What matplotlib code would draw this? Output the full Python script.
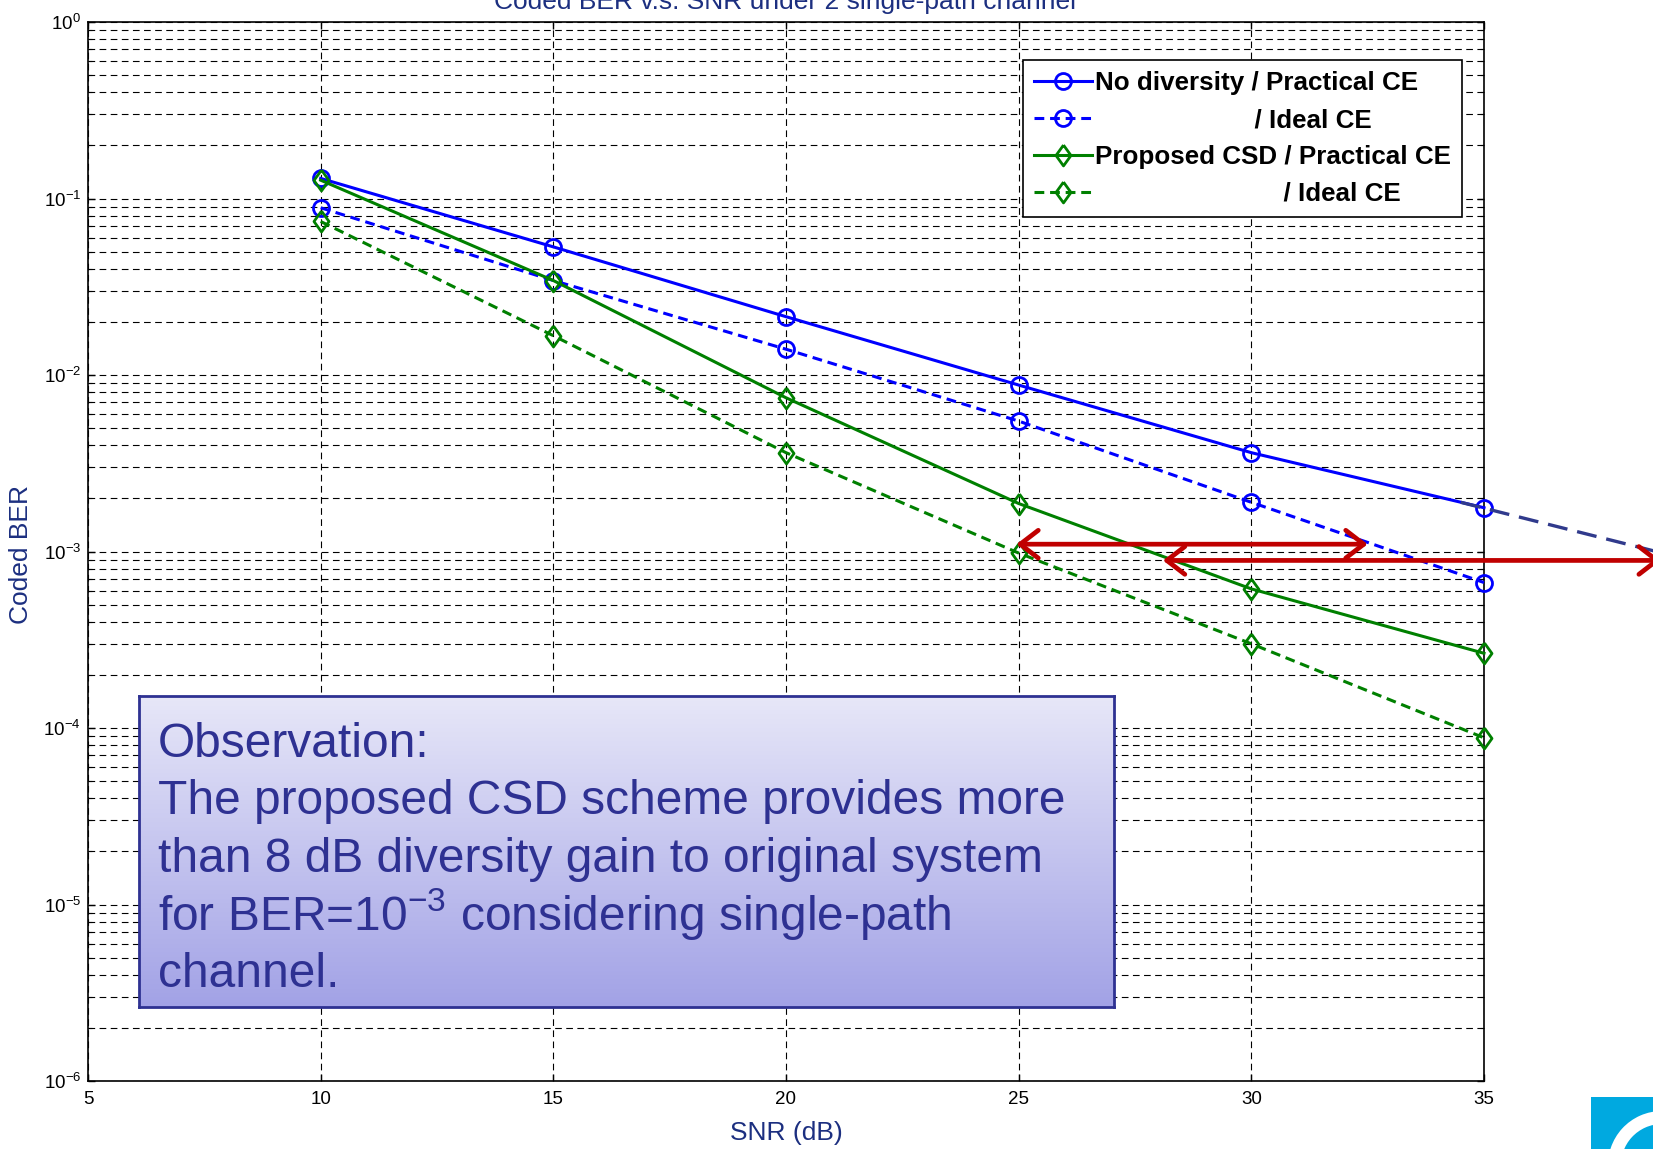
import matplotlib
matplotlib.use("Agg")
import matplotlib.pyplot as plt
import numpy as np
from matplotlib.ticker import LogLocator, NullFormatter
from matplotlib.patches import Rectangle, Wedge

# Coded BER
snr = [10, 15, 20, 25, 30, 35]
ber_nodiv_practical = [0.130, 0.0532, 0.0214, 0.00877, 0.00363, 0.00177]
ber_nodiv_ideal = [0.0886, 0.0343, 0.0140, 0.00548, 0.00190, 0.000667]
ber_csd_practical = [0.127, 0.0343, 0.00743, 0.00187, 0.000614, 0.000265]
ber_csd_ideal = [0.0741, 0.0167, 0.00363, 0.00098, 0.000300, 0.000088]

series_labels = ["No diversity / Practical CE",
                 " " * 22 + "/ Ideal CE",
                 "Proposed CSD / Practical CE",
                 " " * 26 + "/ Ideal CE"]

# extrapolated no-diversity curve and the two gain arrows
extrap_snr = [34.5, 38.7]
extrap_ber = [1.9e-3, 1.0e-3]
arrow_snr = [(24.95, 32.5), (28.1, 38.8)]
arrow_ber = [1.1e-3, 8.9e-4]

note_lines = ["Observation:",
              "The proposed CSD scheme provides more",
              "than 8 dB diversity gain to original system",
              r"for BER=10$^{-3}$ considering single-path",
              "channel."]

plt.rcParams.update({
    'font.family': ['Liberation Sans', 'DejaVu Sans'],
    'mathtext.fontset': 'custom',
    'mathtext.rm': 'Liberation Sans',
    'mathtext.it': 'Liberation Sans:italic',
    'mathtext.bf': 'Liberation Sans:bold',
    'mathtext.default': 'regular',
    'axes.unicode_minus': False,
})

W, H = 1653, 1149
fig = plt.figure(figsize=(W / 100, H / 100), dpi=100)
ax = fig.add_axes([88 / W, 1 - 1081 / H, 1396 / W, 1059 / H])

navy = '#1c2f80'
blue = '#0000ff'
green = '#008000'
diamond = [(0, 1), (0.72, 0), (0, -1), (-0.72, 0), (0, 1)]
dash = (0, (3.2, 1.9))
line_kw = dict(lw=2.2, mfc='none', mew=2, clip_on=False, zorder=3)

l1, = ax.plot(snr, ber_nodiv_practical, '-', color=blue, marker='o', ms=11.5, **line_kw)
l2, = ax.plot(snr, ber_nodiv_ideal, ls=dash, color=blue, marker='o', ms=11.5, **line_kw)
l3, = ax.plot(snr, ber_csd_practical, '-', color=green, marker=diamond, ms=15, **line_kw)
l4, = ax.plot(snr, ber_csd_ideal, ls=dash, color=green, marker=diamond, ms=15, **line_kw)

ax.plot(extrap_snr, extrap_ber, ls=(0, (6, 3)), color='#303a8c', lw=2.4,
        clip_on=False, zorder=4)

for (x0, x1), y in zip(arrow_snr, arrow_ber):
    ax.annotate('', xy=(x1, y), xytext=(x0, y), annotation_clip=False,
                arrowprops=dict(arrowstyle='<->,head_length=0.65,head_width=0.5',
                                color='#c00000', lw=3.4, mutation_scale=20,
                                shrinkA=0, shrinkB=0), zorder=5)

ax.set_yscale('log')
ax.set_xlim(5, 35)
ax.set_ylim(1e-6, 1)
ax.set_xticks([5, 10, 15, 20, 25, 30, 35])
ax.yaxis.set_major_locator(LogLocator(base=10, numticks=20))
ax.yaxis.set_minor_locator(LogLocator(base=10, subs=np.arange(2, 10), numticks=100))
ax.yaxis.set_minor_formatter(NullFormatter())

ax.tick_params(which='both', direction='in', top=True, right=True,
               labelsize=13.5, colors='black')
ax.tick_params(which='major', length=5, width=1)
ax.tick_params(which='minor', length=3, width=0.8)
ax.tick_params(axis='x', pad=7)
ax.tick_params(axis='y', pad=5)

grid_kw = dict(color='black', lw=0.8, ls=(0, (6, 4)))
ax.grid(True, which='major', axis='x', **grid_kw)
ax.grid(True, which='both', axis='y', **grid_kw)
for s in ax.spines.values():
    s.set_linewidth(1.2)

ax.set_xlabel('SNR (dB)', fontsize=19, color=navy)
ax.xaxis.set_label_coords(0.5, -0.038)
ax.set_ylabel('Coded BER', fontsize=19, color=navy)
ax.yaxis.set_label_coords(-0.0395, 0.497)

fig.text(785 / W, 1 - 2 / H, 'Coded BER v.s. SNR under 2 single-path channel',
         ha='center', va='center', fontsize=19, color=navy)

leg = ax.legend([l1, l2, l3, l4], series_labels, loc='upper right',
                bbox_to_anchor=(0.984, 0.964), borderaxespad=0,
                prop={'weight': 'bold', 'size': 18.7}, handlelength=2.25,
                handletextpad=0.1, labelspacing=0.5, borderpad=0.42,
                fancybox=False, framealpha=1, edgecolor='black', numpoints=1)
leg.get_frame().set_linewidth(1.2)

# observation box with vertical gradient
bx = fig.add_axes([139 / W, 1 - 1007 / H, 975 / W, 311 / H])
grad = np.linspace(0, 1, 256)[:, None]
top_c = np.array([231, 231, 248]) / 255
bot_c = np.array([162, 162, 230]) / 255
img = top_c[None, None, :] * (1 - grad[..., None]) + bot_c[None, None, :] * grad[..., None]
bx.imshow(img, aspect='auto', extent=(0, 1, 0, 1), origin='upper')
bx.set_xlim(0, 1)
bx.set_ylim(0, 1)
bx.set_xticks([])
bx.set_yticks([])
for s in bx.spines.values():
    s.set_color('#2e3192')
    s.set_linewidth(2)
baselines = [61, 118.5, 176, 233.5, 291]
for txt, b in zip(note_lines, baselines):
    bx.text(19 / 975, 1 - b / 311, txt, fontsize=34.5, color='#2e3192',
            ha='left', va='baseline')

# logo corner
fig.patches.append(Rectangle((1591 / W, 0), 62 / W, 52 / H, transform=fig.transFigure,
                             facecolor='#00a9e0', edgecolor='none'))
fig.patches.append(Wedge((1662, H - 1165), 54, 90, 185, width=13,
                         transform=None, facecolor='white', edgecolor='none'))

fig.savefig('out.png', dpi=100)
